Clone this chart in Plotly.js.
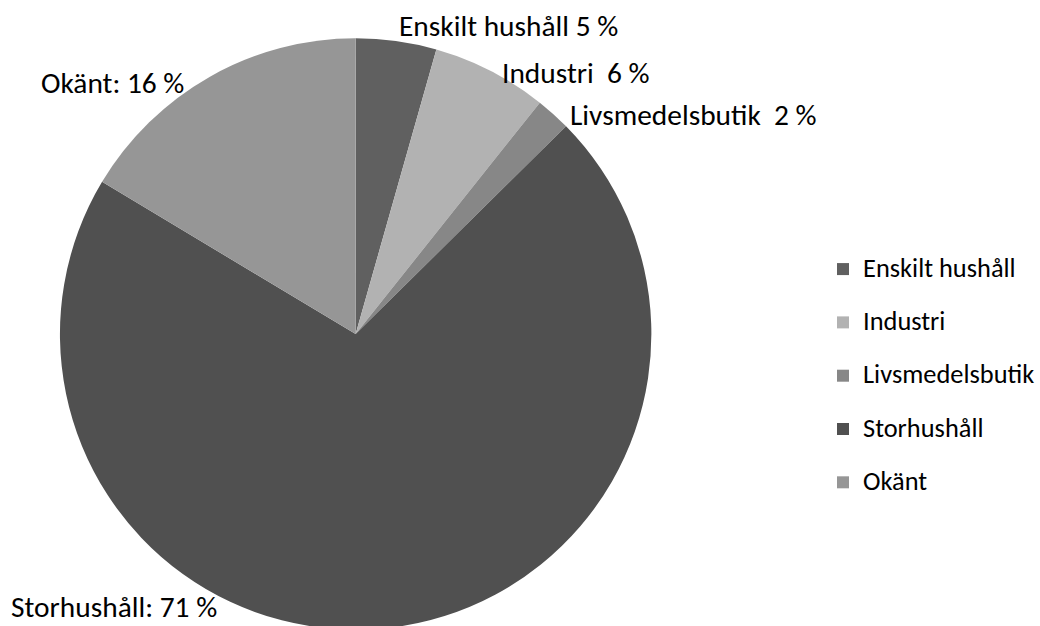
<!DOCTYPE html>
<html>
<head>
<meta charset="utf-8">
<script src="https://cdn.plot.ly/plotly-3.0.1.min.js"></script>
<style>html,body{margin:0;padding:0;overflow:hidden;background:#fff}</style>
</head>
<body>
<div id="chart"></div>
<script>
const categories = ['Enskilt hushåll', 'Industri', 'Livsmedelsbutik', 'Storhushåll', 'Okänt'];
const shares = [4.4, 6.3, 1.9, 71.0, 16.4];
const labelPercents = [5, 6, 2, 71, 16];
const labelSeparators = [' ', '  ', '  ', ': ', ': '];
const sliceColors = ['#606060', '#b2b2b2', '#878787', '#505050', '#969696'];

const W = 1040, H = 640;
const FONT = 'Carlito, Lato, sans-serif';

// label anchor positions (pixels, left edge / vertical middle)
const labelPos = [[400, 26], [503, 73], [572, 115], [12, 607], [42, 83]];

const annotations = categories.map((c, i) => ({
  xref: 'paper', yref: 'paper',
  x: labelPos[i][0] / W, y: 1 - labelPos[i][1] / H,
  xanchor: 'left', yanchor: 'middle',
  xshift: -3,
  text: c + labelSeparators[i] + labelPercents[i] + ' %',
  showarrow: false,
  font: {family: FONT, size: 29.4, color: '#000'}
}));

const trace = {
  type: 'pie',
  labels: categories.map(c => '<span style="font-size:26.4px">' + c + '</span><br>\u00a0'),
  values: shares,
  sort: false,
  direction: 'clockwise',
  rotation: 0,
  textinfo: 'none',
  hoverinfo: 'percent',
  marker: {colors: sliceColors, line: {width: 0}},
  domain: {x: [60 / W, 652 / W], y: [1 - 630 / H, 1 - 38 / H]}
};

const layout = {
  width: W, height: H,
  margin: {l: 0, r: 0, t: 0, b: 0},
  paper_bgcolor: '#fff',
  showlegend: true,
  legend: {
    x: 824 / W, xanchor: 'left',
    y: 1 - 250 / H, yanchor: 'top',
    valign: 'top',
    font: {family: FONT, size: 19.35, color: '#000'},
    bgcolor: 'rgba(0,0,0,0)'
  },
  annotations: annotations
};

Plotly.newPlot('chart', [trace], layout, {displayModeBar: false, staticPlot: true});
</script>
</body>
</html>
